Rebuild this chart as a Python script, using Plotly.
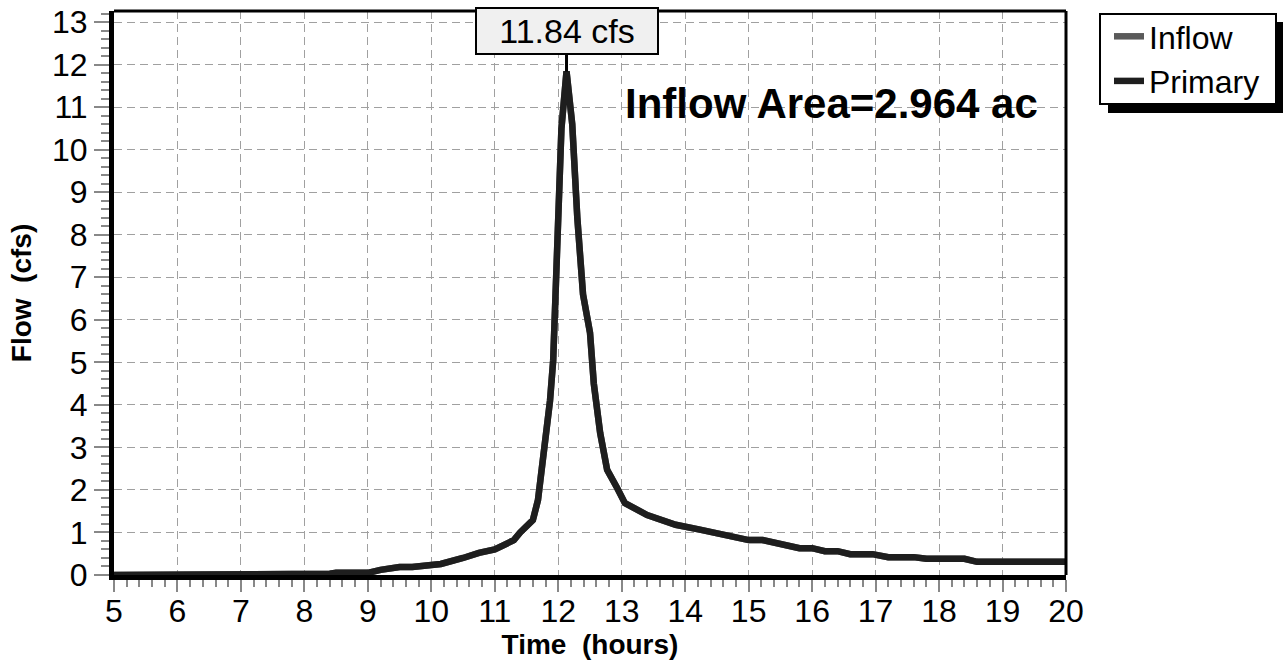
import plotly.graph_objects as go

time_hr = [5.0, 8.3, 8.4, 8.5, 9.0, 9.2, 9.5, 9.7, 10.0, 10.15, 10.5, 10.75, 11.0,
           11.3, 11.4, 11.6, 11.68, 11.76, 11.87, 11.92, 11.96, 12.0, 12.05, 12.13,
           12.22, 12.3, 12.39, 12.5, 12.56, 12.66, 12.77, 12.93, 13.05, 13.4, 13.6,
           13.85, 14.25, 15.0, 15.22, 15.8, 16.0, 16.2, 16.4, 16.6, 16.95, 17.2,
           17.6, 17.8, 18.4, 18.6, 20.0]
flow_cfs = [0.0, 0.0, 0.03, 0.05, 0.05, 0.12, 0.19, 0.19, 0.26, 0.26, 0.40, 0.52, 0.60,
            0.82, 1.0, 1.29, 1.76, 2.7, 4.1, 5.05, 6.5, 8.5, 10.5, 11.84,
            10.6, 8.4, 6.6, 5.7, 4.5, 3.34, 2.47, 2.04, 1.69, 1.41, 1.31,
            1.18, 1.06, 0.82, 0.82, 0.63, 0.63, 0.56, 0.56, 0.49, 0.49, 0.42,
            0.42, 0.38, 0.38, 0.31, 0.31]
series_names = ["Inflow", "Primary"]
series_colors = ["#5a5a5a", "#1e1e1e"]
peak_time = 12.13
peak_flow = 11.84
x_ticks = list(range(5, 21))
y_ticks = list(range(0, 14))
inflow_area_ac = 2.964

FONT = "Liberation Sans, Arial, sans-serif"


def px_x(px):
    return (px - 114) / 952


def px_y(py):
    return (575 - py) / 564


fig = go.Figure()
for name, color in zip(series_names, series_colors):
    fig.add_trace(go.Scatter(x=time_hr, y=flow_cfs, mode="lines", name=name,
                             line=dict(color=color, width=6.5)))

fig.update_layout(
    width=1283, height=666,
    margin=dict(l=114, r=217, t=11, b=91, autoexpand=False),
    paper_bgcolor="white", plot_bgcolor="white",
    font=dict(family=FONT, color="black"),
    showlegend=True,
    legend=dict(x=px_x(1109), y=px_y(9), xanchor="left", yanchor="top",
                bgcolor="rgba(0,0,0,0)", borderwidth=0,
                font=dict(size=32, family=FONT), itemwidth=30,
                tracegroupgap=0),
    xaxis=dict(range=[5, 20], tickvals=x_ticks, ticktext=[str(v) for v in x_ticks],
               automargin=False,
               showline=True, linecolor="black", linewidth=5,
               ticks="outside", ticklen=12, tickwidth=2, tickcolor="#888",
               minor=dict(dtick=0.2, ticks="outside", ticklen=7, tickwidth=2,
                          tickcolor="#888", showgrid=False),
               showgrid=True, gridcolor="#a0a0a0", griddash="8px,5px", gridwidth=1,
               zeroline=False, tickfont=dict(size=32), ticklabelstandoff=-8,
               title=dict(text="<b>Time  (hours)</b>", font=dict(size=28), standoff=4)),
    yaxis=dict(range=[0, 13.26], tickvals=y_ticks, ticktext=[str(v) for v in y_ticks],
               automargin=False,
               showline=True, linecolor="black", linewidth=5,
               ticks="outside", ticklen=15, tickwidth=2, tickcolor="#888",
               minor=dict(dtick=0.2, ticks="outside", ticklen=8, tickwidth=2,
                          tickcolor="#888", showgrid=False),
               showgrid=True, gridcolor="#a0a0a0", griddash="8px,5px", gridwidth=1,
               zeroline=False, tickfont=dict(size=32), ticklabelstandoff=0,
               title=dict(text="<b>Flow  (cfs)</b>", font=dict(size=28), standoff=14)),
)

# top and right frame lines
fig.add_shape(type="line", xref="paper", yref="paper", x0=0, x1=1, y0=1, y1=1,
              line=dict(color="black", width=3))
fig.add_shape(type="line", xref="paper", yref="paper", x0=1, x1=1, y0=0, y1=1,
              line=dict(color="black", width=3))

# legend shadow and box
fig.add_shape(type="rect", xref="paper", yref="paper",
              x0=px_x(1108), x1=px_x(1283), y0=px_y(113), y1=px_y(22),
              fillcolor="black", line=dict(width=0), layer="below")
fig.add_shape(type="rect", xref="paper", yref="paper",
              x0=px_x(1100), x1=px_x(1276), y0=px_y(104), y1=px_y(14),
              fillcolor="white", line=dict(color="black", width=2), layer="below")

# peak label
fig.add_annotation(x=peak_time, y=peak_flow, text=f"{peak_flow:.2f} cfs",
                   showarrow=True, arrowhead=0, arrowwidth=3, arrowcolor="black",
                   ax=0, ay=-40, standoff=0,
                   bgcolor="#f0f0f0", bordercolor="black", borderwidth=2,
                   width=178, height=42, font=dict(size=34, family=FONT))

fig.add_annotation(x=px_x(1040), y=px_y(103),
                   xref="x domain", yref="y domain", xanchor="right", yanchor="middle",
                   text=f"<b>Inflow Area={inflow_area_ac} ac</b>", showarrow=False,
                   font=dict(size=42, family=FONT))

fig.write_html("out.html", config={"displayModeBar": False},
               post_script="document.body.style.margin='0';")
